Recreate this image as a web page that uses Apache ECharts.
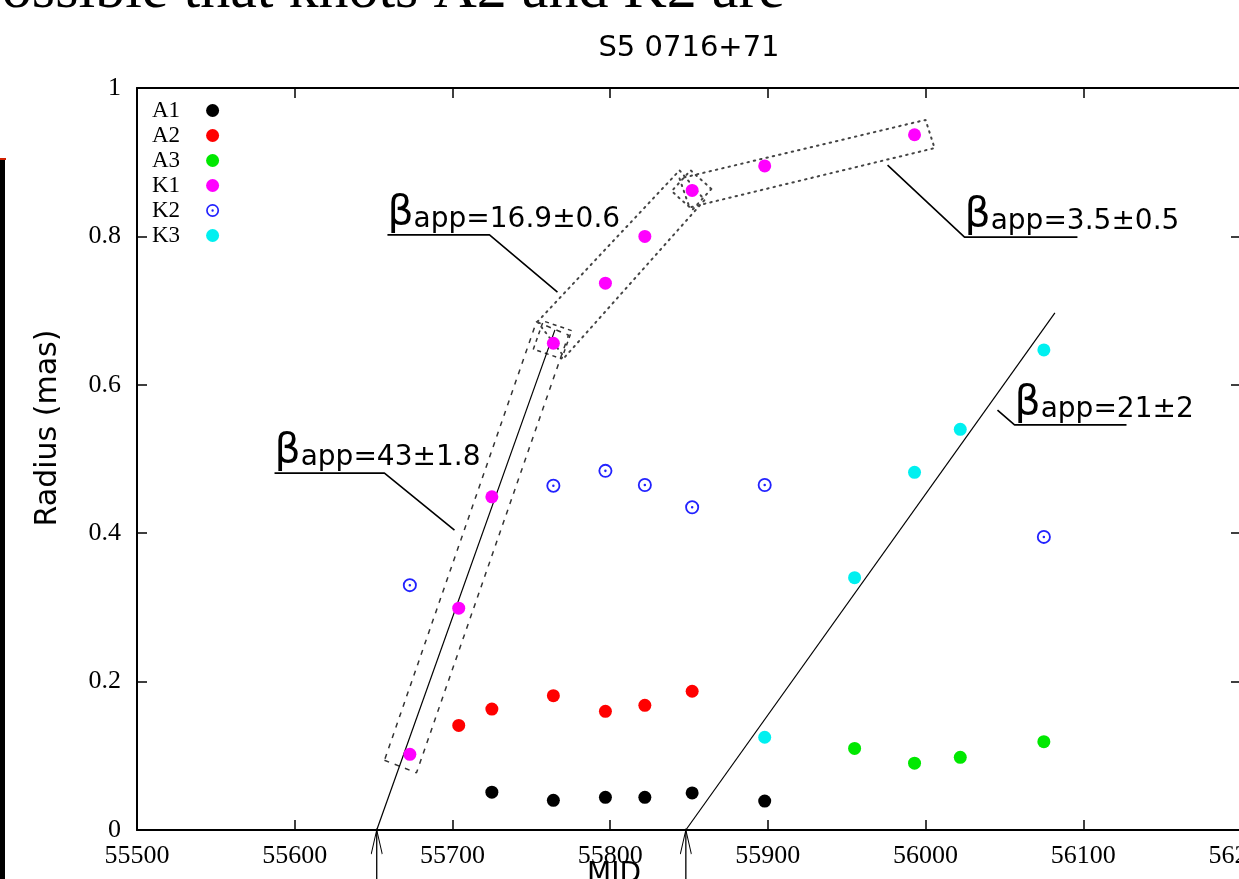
<!DOCTYPE html>
<html><head><meta charset="utf-8">
<script src="https://cdn.jsdelivr.net/npm/echarts@6/dist/echarts.min.js"></script>
<style>html,body{margin:0;padding:0;background:#fff}#c{width:1239px;height:879px}</style>
</head><body><div id="c"></div>
<script>
// ---------- data ----------
const xRange = [55500, 56200], xStep = 100;
const yRange = [0, 1], yStep = 0.2;

const mjdA1 = [55725, 55764, 55797, 55822, 55852, 55898];
const radA1 = [0.051, 0.040, 0.044, 0.044, 0.050, 0.039];
const mjdA2 = [55704, 55725, 55764, 55797, 55822, 55852];
const radA2 = [0.141, 0.163, 0.181, 0.160, 0.168, 0.187];
const mjdA3 = [55955, 55993, 56022, 56075];
const radA3 = [0.110, 0.090, 0.098, 0.119];
const mjdK1 = [55673, 55704, 55725, 55764, 55797, 55822, 55852, 55898, 55993];
const radK1 = [0.102, 0.299, 0.449, 0.656, 0.737, 0.800, 0.862, 0.895, 0.937];
const mjdK2 = [55673, 55764, 55797, 55822, 55852, 55898, 56075];
const radK2 = [0.330, 0.464, 0.484, 0.465, 0.435, 0.465, 0.395];
const mjdK3 = [55898, 55955, 55993, 56022, 56075];
const radK3 = [0.125, 0.340, 0.482, 0.540, 0.647];

// linear fits (MJD, radius) and ejection epochs
const fitK1 = [[55652, 0], [55765, 0.674]];
const fitK3 = [[55848, 0], [56082, 0.697]];
const ejectionMJD = [55652, 55848];
const arrowFoot = -0.08;

// selection boxes (MJD, radius corners)
const box1 = [[55656.9, 0.094], [55677.2, 0.077], [55773.6, 0.667], [55753.3, 0.685], [55656.9, 0.094]];
const box2 = [[55753.9, 0.685], [55771.1, 0.637], [55859.9, 0.849], [55844.0, 0.889], [55753.9, 0.685]];
const box3 = [[55844.0, 0.878], [55850.3, 0.839], [56005.7, 0.919], [56000.0, 0.957], [55844.0, 0.878]];
const sq1 = [[55775.6, 0.673], [55757.6, 0.686], [55751.3, 0.648], [55769.3, 0.635], [55775.6, 0.673]];
const sq2 = [[55864.2, 0.864], [55851.0, 0.889], [55839.0, 0.861], [55852.2, 0.836], [55864.2, 0.864]];

// annotations: leader + underline (MJD, radius) and text
const noteText = ['16.9±0.6', '3.5±0.5', '43±1.8', '21±2'];
const notePath = [
  [[55766.6, 0.725], [55723.5, 0.802], [55658.8, 0.802]],
  [[55975.9, 0.896], [56024.7, 0.799], [56096.3, 0.799]],
  [[55701.3, 0.404], [55656.9, 0.481], [55587.2, 0.481]],
  [[56045.6, 0.566], [56056.4, 0.546], [56127.4, 0.546]]
];

// ---------- chart ----------
const pairs = (xs, ys) => xs.map((x, i) => [x, ys[i]]);
const ring = 'path://M0,-10A10,10,0,1,1,0,10A10,10,0,1,1,0,-10ZM0,-7.4A7.4,7.4,0,1,0,0,7.4A7.4,7.4,0,1,0,0,-7.4ZM0,-1.8A1.8,1.8,0,1,1,0,1.8A1.8,1.8,0,1,1,0,-1.8Z';

const knots = [
  {name: 'A1', d: pairs(mjdA1, radA1), color: '#000000', symbol: 'circle', size: 13},
  {name: 'A2', d: pairs(mjdA2, radA2), color: '#ff0000', symbol: 'circle', size: 13},
  {name: 'A3', d: pairs(mjdA3, radA3), color: '#00e800', symbol: 'circle', size: 13},
  {name: 'K1', d: pairs(mjdK1, radK1), color: '#ff00ff', symbol: 'circle', size: 13},
  {name: 'K2', d: pairs(mjdK2, radK2), color: '#2222ff', symbol: ring, size: 14},
  {name: 'K3', d: pairs(mjdK3, radK3), color: '#00f0f0', symbol: 'circle', size: 13}
];

const series = [];
function poly(data, style, extra) {
  series.push(Object.assign({
    type: 'line', data: data, symbol: 'none', silent: true, z: 2,
    lineStyle: style, animation: false
  }, extra || {}));
}
const dashed = {color: '#333', width: 1.5, type: [5, 6]};
const dotted = {color: '#444', width: 2, type: [1.5, 5], cap: 'round'};
poly(box1, dashed);
poly(sq1, {color: '#333', width: 1.5, type: [4, 4]});
poly(box2, dotted);
poly(sq2, dotted);
poly(box3, dotted);
poly(fitK1, {color: '#000', width: 1.2});
poly(fitK3, {color: '#000', width: 1.2});
ejectionMJD.forEach(m => poly([[m, arrowFoot], [m, 0]], {color: '#000', width: 1.3}, {clip: false}));
series.push({
  type: 'scatter', data: ejectionMJD.map(m => [m, 0]), clip: false, silent: true, z: 4,
  symbol: 'path://M0,24L5.5,0L11,24', symbolSize: [11, 24], symbolOffset: [0, 12],
  itemStyle: {color: 'rgba(0,0,0,0)', borderColor: '#000', borderWidth: 1.3, opacity: 1}, animation: false
});
notePath.forEach(p => poly(p, {color: '#000', width: 1.6}));
series.push({
  type: 'scatter', silent: true, symbolSize: 0, z: 5, animation: false,
  itemStyle: {opacity: 1},
  data: notePath.map((p, i) => {
    const a = p[1][0] < p[2][0] ? p[1] : p[2];
    return {value: a, name: noteText[i]};
  }),
  label: {
    show: true, position: [0, -1], align: 'left', verticalAlign: 'bottom', color: '#000', opacity: 1,
    formatter: p => '{b|β}{t|app=' + p.name + '}',
    rich: {
      b: {fontFamily: 'DejaVu Sans', fontSize: 41, color: '#000', verticalAlign: 'bottom'},
      t: {fontFamily: 'DejaVu Sans', fontSize: 28, color: '#000', verticalAlign: 'bottom'}
    }
  }
});
knots.forEach(k => series.push({
  type: 'scatter', name: k.name, data: k.d, symbol: k.symbol, symbolSize: k.size, z: 6,
  itemStyle: {color: k.color, opacity: 1}, animation: false
}));

const axisCommon = {
  type: 'value', splitLine: {show: false},
  axisLine: {show: true, onZero: false, lineStyle: {color: '#000', width: 2}},
  axisTick: {show: true, inside: true, length: 10, lineStyle: {color: '#000', width: 1.5}}
};
const tickFont = {fontFamily: 'Liberation Serif', fontSize: 26, color: '#000', formatter: v => String(v)};

const option = {
  animation: false,
  backgroundColor: '#fff',
  grid: {left: 137, top: 88, width: 1104, height: 742, containLabel: false, outerBoundsMode: 'none'},
  xAxis: [
    Object.assign({}, axisCommon, {min: xRange[0], max: xRange[1], interval: xStep, position: 'bottom',
      axisLabel: Object.assign({margin: 13}, tickFont)}),
    Object.assign({}, axisCommon, {min: xRange[0], max: xRange[1], interval: xStep, position: 'top',
      axisLabel: {show: false}})
  ],
  yAxis: [
    Object.assign({}, axisCommon, {min: yRange[0], max: yRange[1], interval: yStep, position: 'left',
      axisLabel: Object.assign({margin: 16}, tickFont)}),
    Object.assign({}, axisCommon, {min: yRange[0], max: yRange[1], interval: yStep, position: 'right',
      axisLabel: {show: false}})
  ],
  legend: {
    data: knots.map(k => k.name), orient: 'vertical', left: 152, top: 98, padding: 0,
    itemGap: 0, align: 'right', itemWidth: 13, itemHeight: 13, selectedMode: false,
    textStyle: {fontFamily: 'Liberation Serif', fontSize: 23, color: '#000', lineHeight: 25, padding: [0, 21, 0, 0]}
  },
  graphic: [
    {type: 'text', x: 785, y: -39, silent: true,
      style: {text: 'possible that knots A2 and K2 are', fontFamily: 'Liberation Serif', fontSize: 60,
        fill: '#000', align: 'right', verticalAlign: 'top'}},
    {type: 'rect', x: 0, y: 160, silent: true, shape: {width: 5, height: 719}, style: {fill: '#000'}},
    {type: 'rect', x: 0, y: 158, silent: true, shape: {width: 6, height: 2}, style: {fill: '#d02000'}},
    {type: 'text', x: 689, y: 48, silent: true,
      style: {text: 'S5 0716+71', fontFamily: 'DejaVu Sans', fontSize: 29, fill: '#000', align: 'center', verticalAlign: 'middle'}},
    {type: 'text', x: 48, y: 428, rotation: Math.PI / 2, silent: true,
      style: {text: 'Radius (mas)', fontFamily: 'DejaVu Sans', fontSize: 30, fill: '#000', align: 'center', verticalAlign: 'middle'}},
    {type: 'text', x: 614, y: 861, silent: true,
      style: {text: 'MJD', fontFamily: 'DejaVu Sans', fontSize: 28, fill: '#000', align: 'center', verticalAlign: 'top'}}
  ],
  series: series
};
const chart = echarts.init(document.getElementById('c'));
chart.setOption(option);
</script></body></html>
